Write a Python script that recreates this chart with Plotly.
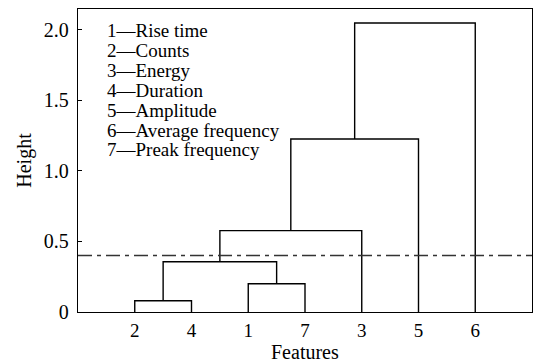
import plotly.graph_objects as go

# Leaf order along the x axis and the feature names
leaf_order = ["2", "4", "1", "7", "3", "5", "6"]
feature_names = ["1—Rise time", "2—Counts", "3—Energy", "4—Duration",
                 "5—Amplitude", "6—Average frequency", "7—Preak frequency"]

# Agglomerative merges: (left cluster, right cluster, height)
merge_left = [["2"], ["1"], ["2", "4"], ["2", "4", "1", "7"], ["2", "4", "1", "7", "3"], ["2", "4", "1", "7", "3", "5"]]
merge_right = [["4"], ["7"], ["1", "7"], ["3"], ["5"], ["6"]]
merge_height = [0.08, 0.20, 0.356, 0.576, 1.225, 2.047]

cut_height = 0.40

# Cluster positions / heights
pos = {(leaf,): i + 1 for i, leaf in enumerate(leaf_order)}
hgt = {(leaf,): 0.0 for leaf in leaf_order}

fig = go.Figure()
for left, right, h in zip(merge_left, merge_right, merge_height):
    kl, kr = tuple(left), tuple(right)
    xl, xr = pos[kl], pos[kr]
    fig.add_trace(go.Scatter(
        x=[xl, xl, xr, xr], y=[hgt[kl], h, h, hgt[kr]],
        mode="lines", line=dict(color="black", width=1.4),
        showlegend=False, hoverinfo="skip"))
    k = kl + kr
    pos[k] = (xl + xr) / 2
    hgt[k] = h

# Cut line
fig.add_trace(go.Scatter(
    x=[0, len(leaf_order) + 1], y=[cut_height, cut_height], mode="lines",
    line=dict(color="#333333", width=1.4, dash="14px,5px,4px,5px"),
    showlegend=False, hoverinfo="skip"))

serif = "Liberation Serif"
tick_font = dict(family=serif, size=20, color="black")
title_font = dict(family=serif, size=20, color="black")

# Feature key in the upper-left corner
for i, name in enumerate(feature_names):
    fig.add_annotation(
        text=name, xref="paper", yref="paper",
        x=0.059, y=0.928 - i * 0.0655, xanchor="left", yanchor="middle",
        showarrow=False, font=dict(family=serif, size=19, color="black"))

# x-axis title, sitting on the bottom edge of the page
fig.add_annotation(
    text="Features", xref="paper", yref="paper",
    x=0.5, y=-0.172, xanchor="center", yanchor="bottom",
    borderpad=0, showarrow=False, font=title_font)

fig.update_layout(
    width=534, height=363,
    margin=dict(l=78, r=2, t=9, b=51),
    paper_bgcolor="white", plot_bgcolor="white",
    font=tick_font,
    xaxis=dict(range=[0, len(leaf_order) + 1],
               tickmode="array",
               tickvals=list(range(1, len(leaf_order) + 1)),
               ticktext=leaf_order,
               ticks="", showgrid=False, zeroline=False,
               showline=True, linecolor="black", linewidth=1.4, mirror=True,
               ticklabelstandoff=1,
               tickfont=dict(family=serif, size=19, color="black")),
    yaxis=dict(range=[0, 2.146],
               tickmode="array",
               tickvals=[0, 0.5, 1.0, 1.5, 2.0],
               ticktext=["0", "0.5", "1.0", "1.5", "2.0"],
               ticks="inside", ticklen=4, tickcolor="black", tickwidth=1,
               showgrid=False, zeroline=False,
               showline=True, linecolor="black", linewidth=1.4, mirror=True,
               ticklabelstandoff=4,
               title=dict(text="Height", standoff=6, font=title_font),
               tickfont=tick_font),
)

fig.write_html("out.html")
